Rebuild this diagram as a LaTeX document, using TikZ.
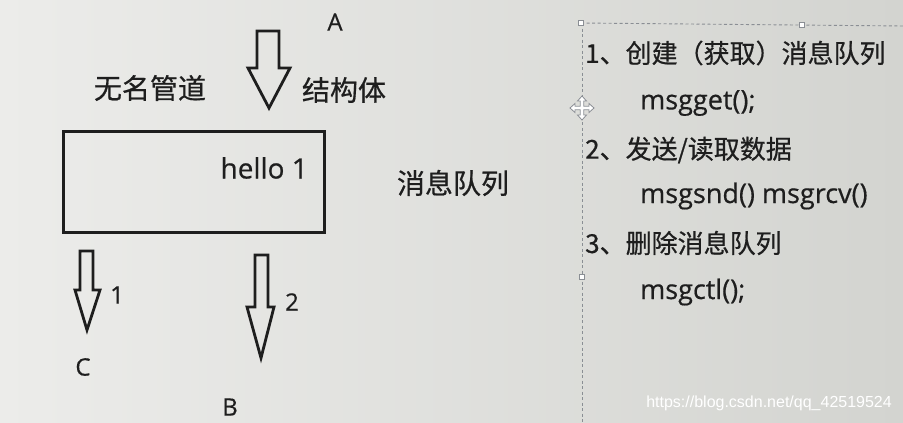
\documentclass[tikz,border=0pt]{standalone}
\usepackage{fontspec}
\setmainfont{Open Sans}
\newfontfamily\cjk[FakeBold=0.6]{Noto Sans CJK SC}
\newfontfamily\latb[FakeBold=0.5]{Open Sans}
\newfontfamily\wmfont{Liberation Sans}
\definecolor{ink}{HTML}{1E1E1E}
\definecolor{bgl}{HTML}{ECECEA}
\definecolor{bgr}{HTML}{D3D4D0}
\definecolor{guide}{HTML}{8A8E94}
\tikzset{
  lbl/.style={text=ink, inner sep=0pt, font=\latb\fontsize{24}{28}\selectfont},
  hel/.style={text=ink, inner sep=0pt, font=\latb\fontsize{28}{32}\selectfont},
  cn/.style={text=ink, inner sep=0pt, font=\cjk\fontsize{28}{32}\selectfont},
  cnr/.style={text=ink, inner sep=0pt, font=\cjk\fontsize{26}{30}\selectfont},
  code/.style={text=ink, inner sep=0pt, font=\latb\fontsize{27}{31}\selectfont},
  hollow/.style={draw=ink, line width=2.8pt, line join=miter},
  guideline/.style={draw=guide, line width=0.9pt, dash pattern=on 3pt off 2.5pt},
  handle/.style={draw=guide, fill=white, line width=0.8pt, minimum size=5pt, inner sep=0pt}
}
\begin{document}
\begin{tikzpicture}[x=1pt,y=-1pt]
\shade[left color=bgl, right color=bgr, shading angle=90] (0,0) rectangle (903,423);
\useasboundingbox (0,0) rectangle (903,423);

% left diagram
\node[lbl] (A) at (335,22) {A};
\draw[hollow] (257,31) -- (279,31) -- (279,68) -- (290,68) -- (269,108) -- (248,68) -- (257,68) -- cycle;
\node[cn] (pipe) at (150,88) {无名管道};
\node[cn] (struct) at (344,90) {结构体};
\node[draw=ink, line width=3pt, minimum width=261pt, minimum height=101pt, anchor=north west, inner sep=0pt] (queue) at (62,130) {};
\node[hel, anchor=east] (hello) at (308,168) {hello 1};
\node[cn] (mq) at (453,183) {消息队列};

\draw[hollow] (80,251) -- (93,251) -- (93,290) -- (100,290) -- (87,330) -- (75,290) -- (80,290) -- cycle;
\node[lbl] (n1) at (117,295) {1};
\node[lbl] (C) at (83,367) {C};
\draw[hollow] (255,255) -- (268,255) -- (268,307) -- (274,307) -- (261,358) -- (247,307) -- (255,307) -- cycle;
\node[lbl] (n2) at (292,302) {2};
\node[lbl] (B) at (230,407) {B};

% right panel guides
\draw[guideline] (581,23) -- (903,26);
\draw[guideline] (582,23) -- (582,423);
\node[handle] (h1) at (581,23) {};
\node[handle] (h2) at (802,25) {};
\node[handle] (h3) at (582,277) {};
\draw[draw=guide, fill=white, line width=0.8pt, shift={(582,108)}]
  (1.8,-1.8) -- (1.8,-7) -- (4.5,-7) -- (0,-12) -- (-4.5,-7) -- (-1.8,-7) -- (-1.8,-1.8)
  -- (-7,-1.8) -- (-7,-4.5) -- (-12,0) -- (-7,4.5) -- (-7,1.8) -- (-1.8,1.8)
  -- (-1.8,7) -- (-4.5,7) -- (0,12) -- (4.5,7) -- (1.8,7) -- (1.8,1.8)
  -- (7,1.8) -- (7,4.5) -- (12,0) -- (7,-4.5) -- (7,-1.8) -- cycle;

% right panel text
\node[cnr, anchor=west] (s1) at (585,53) {1、创建（获取）消息队列};
\node[code, anchor=west] (c1) at (640,103) {msgget();};
\node[cnr, anchor=west] (s2) at (585,150) {2、发送/读取数据};
\node[code, anchor=west] (c2) at (640,196) {msgsnd() msgrcv()};
\node[cnr, anchor=west] (s3) at (585,243) {3、删除消息队列};
\node[code, anchor=west] (c3) at (640,292) {msgctl();};

\node[text=white, inner sep=0pt, anchor=east, font=\wmfont\fontsize{16}{19}\selectfont] (wm) at (892,403) {https://blog.csdn.net/qq\_42519524};
\end{tikzpicture}
\end{document}
